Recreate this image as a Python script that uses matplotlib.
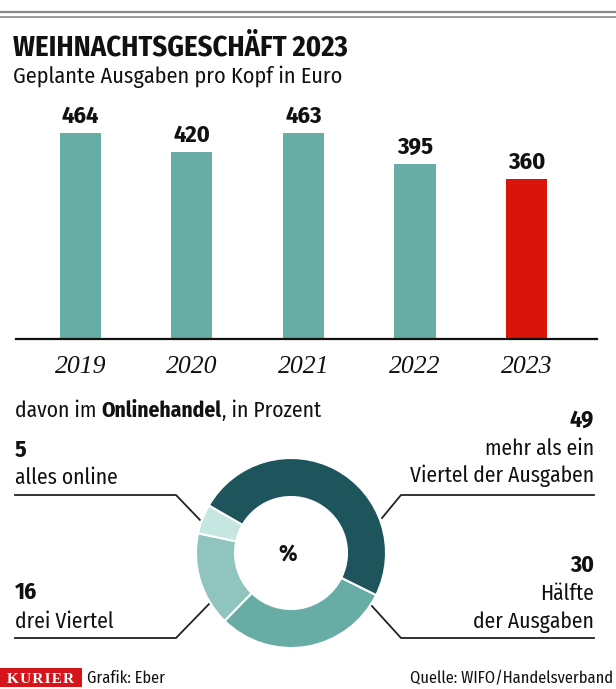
import matplotlib.pyplot as plt
from matplotlib.patches import Rectangle

# Daten
jahre = ['2019', '2020', '2021', '2022', '2023']
ausgaben = [464, 420, 463, 395, 360]

anteile = [49, 30, 16, 5]
anteil_texte = [['mehr als ein', 'Viertel der Ausgaben'], ['Hälfte', 'der Ausgaben'],
                ['drei Viertel'], ['alles online']]

TEAL = '#68aca6'
ROT = '#d9140b'
DONUT_FARBEN = ['#1e555d', '#68aca6', '#90c5bf', '#c6e7e1']
SCHRIFT = ['Fira Sans Condensed', 'DejaVu Sans']
SERIF = ['Liberation Serif', 'DejaVu Serif']
TXT = '#111111'

plt.rcParams['font.family'] = SCHRIFT

W, H = 616, 689
fig = plt.figure(figsize=(W / 100, H / 100), dpi=100)

# Overlay fuer Texte und Linien in Pixelkoordinaten
ov = fig.add_axes([0, 0, 1, 1])
ov.set_xlim(0, W)
ov.set_ylim(H, 0)
ov.axis('off')


def px_rect(x0, y0, w, h):
    # Pixel (von oben) -> Figure-Bruchteile
    return [x0 / W, 1 - (y0 + h) / H, w / W, h / H]


# Doppellinie oben
ov.plot([0, W], [11.5, 11.5], color='#8a8a8a', lw=1.6, solid_capstyle='butt')
ov.plot([0, W], [16.5, 16.5], color='#8a8a8a', lw=1.2, solid_capstyle='butt')

ov.text(13, 55, 'WEIHNACHTSGESCHÄFT 2023', fontsize=20.5, fontweight='bold',
        va='baseline', ha='left', color=TXT)
ov.text(13, 83, 'Geplante Ausgaben pro Kopf in Euro', fontsize=16,
        va='baseline', ha='left', color=TXT)

# Balkendiagramm
ax = fig.add_axes(px_rect(16, 100, 581, 239))
farben = [TEAL] * (len(jahre) - 1) + [ROT]
x = list(range(len(jahre)))
ax.bar(x, ausgaben, width=0.368, color=farben)
ax.set_xlim(-0.578, 4.632)
ax.set_ylim(0, 538)
for i, v in enumerate(ausgaben):
    ax.annotate(str(v), (i, v), xytext=(0, 7.2), textcoords='offset points',
                ha='center', va='baseline', fontsize=17.5, fontweight='bold',
                color=TXT)
ax.set_xticks(x)
ax.set_xticklabels(jahre, fontsize=18.5, style='italic', family=SERIF, color=TXT)
ax.tick_params(axis='x', length=0, pad=12)
ax.set_yticks([])
for s in ['top', 'left', 'right']:
    ax.spines[s].set_visible(False)
ax.spines['bottom'].set_linewidth(1.6)
ax.spines['bottom'].set_color(TXT)

# Donut
cx, cy, r = 291, 553, 100
dax = fig.add_axes(px_rect(cx - r, cy - r, 2 * r, 2 * r))
dax.pie(anteile, colors=DONUT_FARBEN, startangle=150, counterclock=False,
        radius=0.95, wedgeprops=dict(width=0.39, edgecolor='white', linewidth=1.5))
dax.set_xlim(-1, 1)
dax.set_ylim(-1, 1)
dax.set_aspect('equal')
dax.axis('off')
dax.text(-0.03, -0.02, '%', ha='center', va='center', fontsize=17, fontweight='bold',
         color=TXT)

# Ueberschrift Onlinehandel
t1 = ov.text(15, 417, 'davon im ', fontsize=15.5, va='baseline', ha='left', color=TXT)
fig.canvas.draw()
t2 = ov.annotate('Onlinehandel', xycoords=t1, xy=(1, 0), va='bottom', ha='left',
                 fontsize=15.5, fontweight='bold', color=TXT)
fig.canvas.draw()
ov.annotate(', in Prozent', xycoords=t2, xy=(1, 0), va='bottom', ha='left',
            fontsize=15.5, color=TXT)

lc = '#222222'
zahl = 17
# 5 alles online
ov.text(15, 457, str(anteile[3]), fontsize=zahl, fontweight='bold', va='baseline', color=TXT)
ov.text(15, 484, anteil_texte[3][0], fontsize=15.5, va='baseline', color=TXT)
ov.plot([15, 176, 200], [495, 495, 520], color=lc, lw=1.3)
# 16 drei Viertel
ov.text(15, 599, str(anteile[2]), fontsize=zahl, fontweight='bold', va='baseline', color=TXT)
ov.text(15, 628, anteil_texte[2][0], fontsize=15.5, va='baseline', color=TXT)
ov.plot([15, 176, 210], [638, 638, 603], color=lc, lw=1.3)
# 49
ov.text(594, 427, str(anteile[0]), fontsize=zahl, fontweight='bold', va='baseline', ha='right', color=TXT)
ov.text(594, 455, anteil_texte[0][0], fontsize=15.5, va='baseline', ha='right', color=TXT)
ov.text(594, 482, anteil_texte[0][1], fontsize=15.5, va='baseline', ha='right', color=TXT)
ov.plot([594, 401, 382], [495, 495, 518], color=lc, lw=1.3)
# 30
ov.text(594, 572, str(anteile[1]), fontsize=zahl, fontweight='bold', va='baseline', ha='right', color=TXT)
ov.text(594, 600, anteil_texte[1][0], fontsize=15.5, va='baseline', ha='right', color=TXT)
ov.text(594, 628, anteil_texte[1][1], fontsize=15.5, va='baseline', ha='right', color=TXT)
ov.plot([594, 401, 371], [638, 638, 605], color=lc, lw=1.3)

# Fusszeile
ov.add_patch(Rectangle((0, 668), 82, 19, color='#d7141a', lw=0))
ov.text(41, 683, 'K\u200aU\u200aR\u200aI\u200aE\u200aR', fontsize=11, fontweight='bold',
        color='white', family=SERIF, ha='center', va='baseline')
ov.text(87, 683, 'Grafik: Eber', fontsize=11.8, va='baseline', ha='left', color=TXT)
ov.text(613, 683, 'Quelle: WIFO/Handelsverband', fontsize=11.8, va='baseline', ha='right',
        color=TXT)

fig.savefig('out.png', dpi=100, facecolor='white')
